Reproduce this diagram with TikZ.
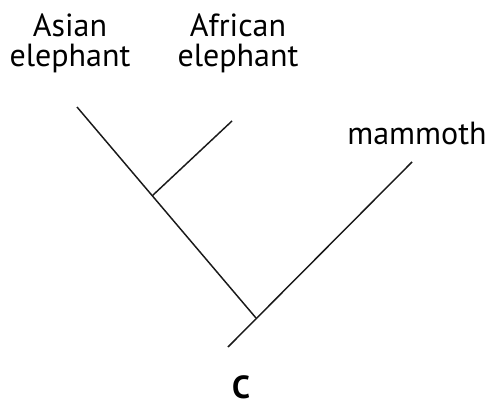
\documentclass[tikz,border=0pt]{standalone}
\usepackage{fontspec}
\setmainfont{PT Sans}
\usepackage{tikz}

\begin{document}
\begin{tikzpicture}[x=0.75pt, y=-0.75pt,
    every node/.style={inner sep=0pt, font=\fontsize{24}{22.5}\selectfont, align=center},
    branch/.style={line width=1.1pt, black!90}]
    \useasboundingbox (0,0) rectangle (492,403);

    % taxon labels
    \node[anchor=base] (asian) at (70,67) {Asian\\elephant};
    \node[anchor=base] (african) at (238,67) {African\\elephant};
    \node[anchor=base] (mammoth) at (417,144) {mammoth};
    \node[anchor=base, font=\fontsize{24}{24}\selectfont\bfseries] (clade) at (241,398) {C};

    \coordinate (tipA) at (77,107);
    \coordinate (tipB) at (232,121);
    \coordinate (tipC) at (412,162);
    \coordinate (inner) at (152,196);
    \coordinate (outer) at (256,318);
    \coordinate (root) at (228,347);

    \draw[branch] (tipA) -- (outer);
    \draw[branch] (inner) -- (tipB);
    \draw[branch] (root) -- (tipC);
\end{tikzpicture}
\end{document}
